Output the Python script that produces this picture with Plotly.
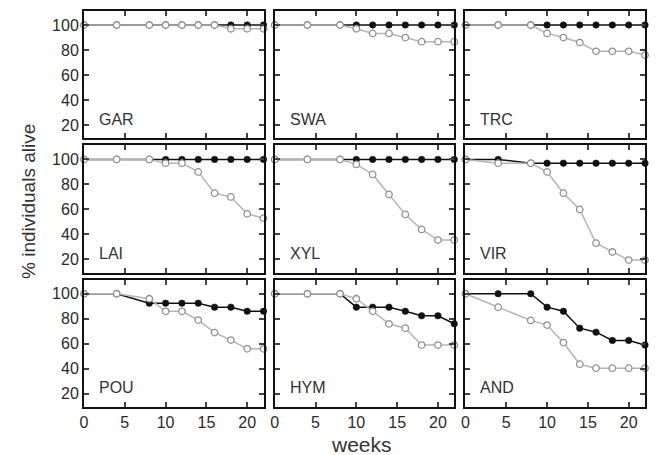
import plotly.graph_objects as go
from plotly.subplots import make_subplots

weeks = [0, 4, 8, 10, 12, 14, 16, 18, 20, 22]
panels = ["GAR", "SWA", "TRC", "LAI", "XYL", "VIR", "POU", "HYM", "AND"]

filled = {
    "GAR": [100, 100, 100, 100, 100, 100, 100, 100, 100, 100],
    "SWA": [100, 100, 100, 100, 100, 100, 100, 100, 100, 100],
    "TRC": [100, 100, 100, 100, 100, 100, 100, 100, 100, 100],
    "LAI": [100, 100, 100, 100, 100, 100, 100, 100, 100, 100],
    "XYL": [100, 100, 100, 100, 100, 100, 100, 100, 100, 100],
    "VIR": [100, 100, 97, 97, 97, 97, 97, 97, 97, 97],
    "POU": [100, 100, 92.5, 92.5, 92.5, 92.5, 89.3, 89.3, 86, 86],
    "HYM": [100, 100, 100, 89.3, 89.3, 89.3, 86, 82.4, 82.4, 76],
    "AND": [100, 100, 100, 89.3, 86, 72.5, 69.3, 62.7, 62.7, 59],
}
open_ = {
    "GAR": [100, 100, 100, 100, 100, 100, 100, 97, 97, 97],
    "SWA": [100, 100, 100, 97, 93.3, 93.3, 90, 86.7, 86.7, 86.7],
    "TRC": [100, 100, 100, 93.3, 90, 86, 79, 79, 79, 76],
    "LAI": [100, 100, 100, 97, 97, 90, 73, 70, 56.5, 53],
    "XYL": [100, 100, 100, 96, 88, 72, 56, 44, 35.5, 35.5],
    "VIR": [100, 97, 97, 90, 73, 60, 33, 26, 19.5, 19.5],
    "POU": [100, 100, 96, 86, 86, 79, 69, 63, 56, 56],
    "HYM": [100, 100, 100, 96, 86, 76, 72.5, 59, 59, 59],
    "AND": [100, 89.3, 78.7, 75, 61, 43.7, 40.5, 40.5, 40.5, 40.5],
}
x_ticks = [0, 5, 10, 15, 20]
y_ticks = [20, 40, 60, 80, 100]

fig = make_subplots(rows=3, cols=3, horizontal_spacing=0.02, vertical_spacing=0.018)

for i, name in enumerate(panels):
    r, c = i // 3 + 1, i % 3 + 1
    fig.add_trace(go.Scatter(
        x=weeks, y=filled[name], mode="lines+markers", cliponaxis=False,
        line=dict(color="#111111", width=1.5),
        marker=dict(symbol="circle", size=6.5, color="#111111", line=dict(color="#111111", width=0.5)),
        showlegend=False), row=r, col=c)
    fig.add_trace(go.Scatter(
        x=weeks, y=open_[name], mode="lines+markers", cliponaxis=False,
        line=dict(color="#b5b5b5", width=1.5),
        marker=dict(symbol="circle", size=6.5, color="white", line=dict(color="#8f8f8f", width=1.3)),
        showlegend=False), row=r, col=c)
    fig.add_annotation(text=name, xref=f"x{i+1 if i else ''} domain", yref=f"y{i+1 if i else ''} domain",
                       x=0.072, y=0.15, xanchor="left", yanchor="middle", showarrow=False,
                       font=dict(family="Liberation Sans, Arial", size=16, color="#333333"))

fig.update_xaxes(range=[0, 22], tickvals=x_ticks, ticks="inside", ticklen=5, tickwidth=1.5,
                 showline=True, linewidth=2, linecolor="#111111", mirror="ticks", showgrid=False,
                 zeroline=False, tickfont=dict(family="Liberation Sans, Arial", size=16, color="#2a2a2a"))
fig.update_yaxes(range=[9.5, 111.2], tickvals=y_ticks, ticks="inside", ticklen=5, tickwidth=1.5,
                 showline=True, linewidth=2, linecolor="#111111", mirror="ticks", showgrid=False,
                 zeroline=False, tickfont=dict(family="Liberation Sans, Arial", size=16, color="#2a2a2a"))
for r in range(1, 4):
    for c in range(1, 4):
        if r < 3:
            fig.update_xaxes(showticklabels=False, row=r, col=c)
        if c > 1:
            fig.update_yaxes(showticklabels=False, row=r, col=c)

fig.add_annotation(text="% individuals alive", xref="paper", yref="paper", x=-0.1, y=0.52,
                   textangle=-90, showarrow=False, xanchor="center", yanchor="middle",
                   font=dict(family="Liberation Sans, Arial", size=19, color="#333333"))
fig.add_annotation(text="weeks", xref="paper", yref="paper", x=0.495, y=-0.095,
                   showarrow=False, xanchor="center", yanchor="middle",
                   font=dict(family="Liberation Sans, Arial", size=21, color="#333333"))

fig.update_layout(width=656, height=455, margin=dict(l=84, r=10, t=9, b=48),
                  plot_bgcolor="white", paper_bgcolor="white")
fig.write_html("out.html", config={"displayModeBar": False},
               post_script="document.body.style.margin='0';document.body.style.overflow='hidden';")
